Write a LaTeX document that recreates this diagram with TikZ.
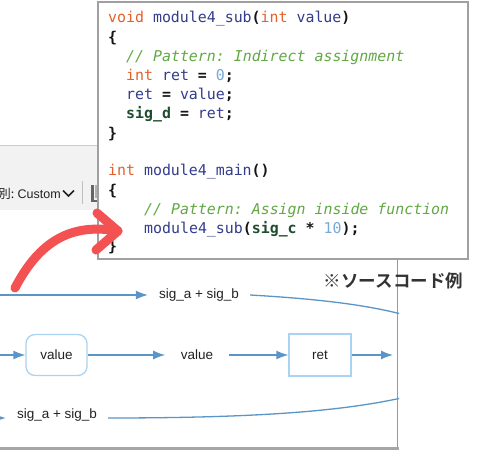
\documentclass[tikz,border=0pt]{standalone}
\usepackage{fontspec}
\setmainfont{Liberation Sans}
\newfontfamily\codefont{DejaVu Sans Mono}
\newfontfamily\jpfont{Noto Sans CJK JP}[BoldFont={Noto Sans CJK JP Bold}]
\usetikzlibrary{arrows.meta}
\frenchspacing
\definecolor{kwcol}{HTML}{E5602A}
\definecolor{idcol}{HTML}{343C8C}
\definecolor{cmcol}{HTML}{62A845}
\definecolor{numcol}{HTML}{79A9D6}
\definecolor{sigcol}{HTML}{1E4D30}
\definecolor{punccol}{HTML}{151515}
\definecolor{edgecol}{HTML}{5B94C6}
\definecolor{boxcol}{HTML}{A9D3F0}
\definecolor{redcol}{HTML}{F45252}
\definecolor{framecol}{HTML}{A0A0A0}
\definecolor{barcol}{HTML}{F2F2F2}
\definecolor{txtcol}{HTML}{222222}
\newcommand{\cdKw}[1]{\textcolor{kwcol}{#1}}
\newcommand{\cdId}[1]{\textcolor{idcol}{#1}}
\newcommand{\cdCm}[1]{\textcolor{cmcol}{\itshape #1}}
\newcommand{\cdNum}[1]{\textcolor{numcol}{#1}}
\newcommand{\cdSig}[1]{\textcolor{sigcol}{\bfseries #1}}
\newcommand{\cdP}[1]{{\bfseries #1}}
\tikzset{
  codeline/.style={anchor=base west, inner sep=0pt, text=punccol,
    font=\codefont\fontsize{14.9}{19}\selectfont},
  lbl/.style={inner xsep=11pt, inner ysep=2pt, text=txtcol,
    font=\fontsize{13.5}{16}\selectfont},
  flow/.style={draw=edgecol, line width=1.3pt, -{Latex[length=12pt,width=9pt]}},
  plainflow/.style={draw=edgecol, line width=1.3pt},
  blockbox/.style={draw=boxcol, line width=1.3pt, fill=white, text=txtcol,
    font=\fontsize{13.5}{16}\selectfont, minimum height=41pt, inner sep=0pt},
  redarrow/.style={draw=redcol, line width=9pt, line cap=round, line join=round}
}
\begin{document}
\begin{tikzpicture}[x=1pt,y=-1pt]
\useasboundingbox (0,0) rectangle (480,450);
\fill[white] (0,0) rectangle (480,450);
% background window (toolbar)
\fill[barcol] (0,146) rectangle (100,210);
\draw[draw=black!20, line width=1pt] (0,145.5) -- (100,145.5);
\node[anchor=base east, inner sep=0pt, text=txtcol, font=\jpfont\fontsize{12.5}{14}\selectfont] (bieh) at (14.5,198) {別:};
\node[anchor=base west, inner sep=0pt, text=txtcol, font=\fontsize{12.5}{14}\selectfont] (custom) at (17.5,198) {Custom};
\draw[txtcol, line width=1.6pt] (63,190.5) -- (68.5,196) -- (74,190.5);
\draw[black!25, line width=1pt] (82,181) -- (82,204);
\fill[black!60] (91,185) rectangle (93.5,202);
\fill[black!60] (91,199.5) rectangle (99,202);
\fill[black!30] (95,185) rectangle (99,198);
% diagram panel borders
\draw[black!40, line width=1pt] (397.5,259) -- (397.5,449);
\draw[black!35, line width=2.5pt] (0,448.5) -- (399,448.5);
% code box
\draw[draw=framecol, line width=1.2pt, fill=white] (98,2) rectangle (468,259);
\node[codeline] (l1) at (108,22) {\cdKw{void} \cdId{module4\_sub}\cdP{(}\cdKw{int} \cdId{value}\cdP{)}};
\node[codeline] (l2) at (108,42) {\cdP{\{}};
\node[codeline] (l3) at (126,61) {\cdCm{// Pattern: Indirect assignment}};
\node[codeline] (l4) at (126,80) {\cdKw{int} \cdId{ret} \cdP{=} \cdNum{0}\cdP{;}};
\node[codeline] (l5) at (126,99) {\cdId{ret} \cdP{=} \cdId{value}\cdP{;}};
\node[codeline] (l6) at (126,118) {\cdSig{sig\_d} \cdP{=} \cdId{ret}\cdP{;}};
\node[codeline] (l7) at (108,138) {\cdP{\}}};
\node[codeline] (l8) at (108,175) {\cdKw{int} \cdId{module4\_main}\cdP{()}};
\node[codeline] (l9) at (108,195) {\cdP{\{}};
\node[codeline] (l10) at (144,214) {\cdCm{// Pattern: Assign inside function}};
\node[codeline] (l11) at (144,233) {\cdId{module4\_sub}\cdP{(}\cdSig{sig\_c} \cdP{*} \cdNum{10}\cdP{);}};
\node[codeline] (l12) at (108,251) {\cdP{\}}};
% note
\node[text=black!80, font=\jpfont\bfseries\fontsize{17.5}{20}\selectfont, inner sep=0pt] (note) at (393.5,281) {※ソースコード例};
% diagram
\coordinate (in0) at (0,295);
\node[lbl] (ts) at (199,295) {sig\_a + sig\_b};
\draw[flow] (in0) -- (ts.west);
\coordinate (tsend) at (399,313.5);
\draw[plainflow] (ts.east) .. controls (320,299) and (365,305) .. (tsend);

\coordinate (in1) at (-2,355);
\node[blockbox, rounded corners=9pt, minimum width=61pt] (val) at (56.5,355) {value};
\draw[flow] (in1) -- (val.west);
\node[lbl, inner xsep=15.5pt] (vlab) at (197,355) {value};
\draw[flow] (val.east) -- (vlab.west);
\node[blockbox, minimum width=62pt, minimum height=42pt] (ret) at (320,355) {ret};
\draw[flow] (vlab.east) -- (ret.west);
\coordinate (out) at (393,355);
\draw[flow] (ret.east) -- (out);

\coordinate (in2) at (-8,418);
\node[lbl] (bs) at (57,415) {sig\_a + sig\_b};
\draw[flow] (in2) -- (bs.west |- in2);
\coordinate (bsend) at (399,398.5);
\draw[plainflow] (bs.east |- in2) .. controls (260,418) and (340,411) .. (bsend);
% red annotation arrow
\coordinate (rstart) at (15,288);
\coordinate (rtip) at (118,231);
\draw[redarrow] (rstart) .. controls (40,240) and (72,223) .. (rtip);
\draw[redarrow] (97,213) -- (rtip) -- (96,250);
\end{tikzpicture}
\end{document}
